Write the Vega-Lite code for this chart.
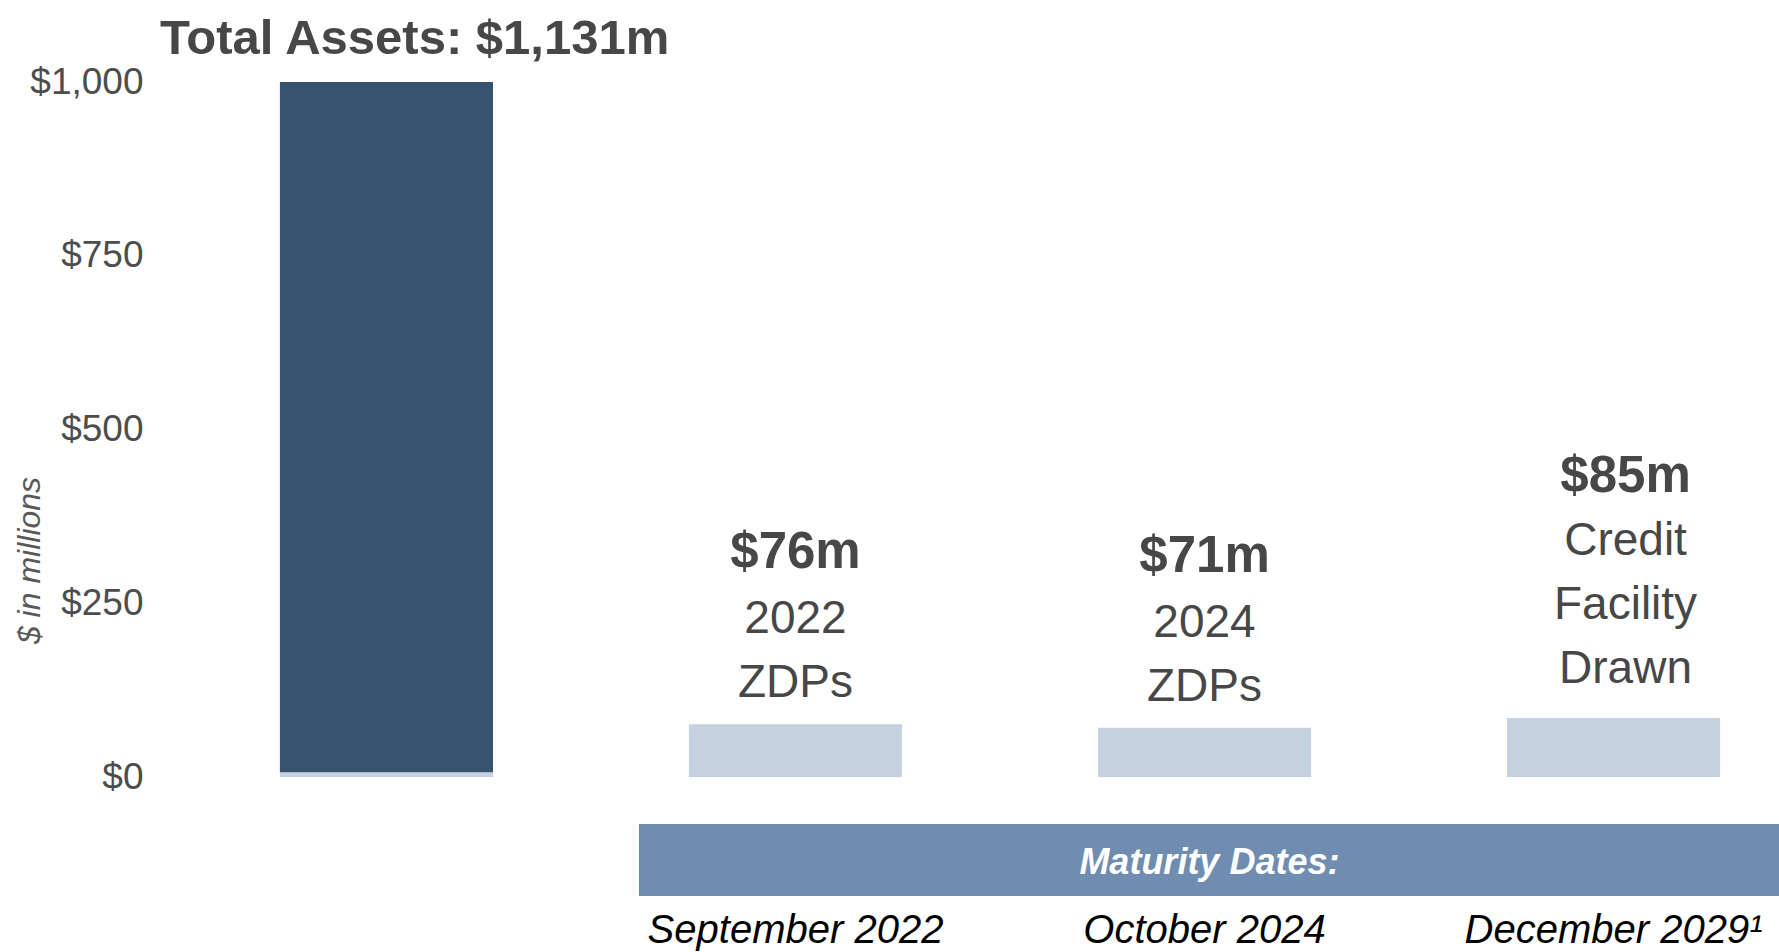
{
  "$schema": "https://vega.github.io/schema/vega-lite/v6.json",
  "background": "white",
  "padding": {"left": 13, "top": 15, "right": 0, "bottom": 0},
  "bounds": "flush",
  "spacing": 47,
  "config": {"view": {"stroke": null}, "font": "Liberation Sans, Arial, sans-serif"},
  "resolve": {"scale": {"x": "independent", "y": "independent"}},
  "vconcat": [
    {
      "width": 1558,
      "height": 695,
      "title": {"text": "Total Assets: $1,131m", "anchor": "start", "frame": "group", "dx": -61, "offset": -40, "baseline": "alphabetic", "font": "Liberation Sans, Arial, sans-serif", "fontSize": 49, "fontWeight": "bold", "color": "#474747"},
      "data": {"values": [
        {"cat": "Total Assets", "series": "Other", "value": 7},
        {"cat": "Total Assets", "series": "Total Assets", "value": 1124},
        {"cat": "2022 ZDPs", "series": "Liabilities", "value": 76, "amount": "$76m", "desc": "2022\nZDPs"},
        {"cat": "2024 ZDPs", "series": "Liabilities", "value": 71, "amount": "$71m", "desc": "2024\nZDPs"},
        {"cat": "Credit Facility", "series": "Liabilities", "value": 85, "amount": "$85m", "desc": "Credit\nFacility\nDrawn"}
      ]},
      "encoding": {
        "x": {"field": "cat", "type": "nominal", "axis": null,
              "scale": {"domain": ["Total Assets", "2022 ZDPs", "2024 ZDPs", "Credit Facility"], "paddingInner": 0.479, "paddingOuter": 0.144}}
      },
      "layer": [
        {
          "mark": {"type": "bar", "clip": true},
          "encoding": {
            "y": {"field": "value", "type": "quantitative", "stack": "zero",
                  "scale": {"domain": [0, 1000], "nice": false, "zero": true},
                  "axis": {"values": [0, 250, 500, 750, 1000], "format": "$,.0f", "title": "$ in millions",
                           "domain": false, "ticks": false, "tickSize": 0, "grid": false,
                           "labelFont": "Liberation Sans, Arial, sans-serif", "labelFontSize": 37, "labelColor": "#4d4d4d", "labelPadding": 78,
                           "titleFont": "Liberation Sans, Arial, sans-serif", "titleFontSize": 32, "titleFontStyle": "italic", "titleFontWeight": "normal",
                           "titleColor": "#595959", "titleX": -182, "titleY": 478, "titleBaseline": "alphabetic", "titleAngle": 270, "titleAlign": "center"}},
            "color": {"field": "series", "type": "nominal", "legend": null,
                      "scale": {"domain": ["Total Assets", "Other", "Liabilities"], "range": ["#37526f", "#c5d1df", "#c5d1df"]}},
            "order": {"field": "value", "type": "quantitative", "sort": "ascending"}
          }
        },
        {
          "transform": [{"filter": "datum.cat == '2022 ZDPs' || datum.cat == '2024 ZDPs'"}],
          "mark": {"type": "text", "fontSize": 51, "fontWeight": "bold", "color": "#474747", "baseline": "alphabetic", "dy": -156},
          "encoding": {"y": {"field": "value", "type": "quantitative", "stack": null}, "text": {"field": "amount"}}
        },
        {
          "transform": [{"filter": "datum.cat == '2022 ZDPs' || datum.cat == '2024 ZDPs'"}],
          "mark": {"type": "text", "fontSize": 46, "color": "#474747", "baseline": "alphabetic", "lineBreak": "\n", "lineHeight": 64, "dy": -91},
          "encoding": {"y": {"field": "value", "type": "quantitative", "stack": null}, "text": {"field": "desc"}}
        },
        {
          "transform": [{"filter": "datum.cat == 'Credit Facility'"}],
          "mark": {"type": "text", "fontSize": 51, "fontWeight": "bold", "color": "#474747", "baseline": "alphabetic", "dy": -226, "dx": 12},
          "encoding": {"y": {"field": "value", "type": "quantitative", "stack": null}, "text": {"field": "amount"}}
        },
        {
          "transform": [{"filter": "datum.cat == 'Credit Facility'"}],
          "mark": {"type": "text", "fontSize": 46, "color": "#474747", "baseline": "alphabetic", "lineBreak": "\n", "lineHeight": 64, "dy": -163, "dx": 12},
          "encoding": {"y": {"field": "value", "type": "quantitative", "stack": null}, "text": {"field": "desc"}}
        }
      ]
    },
    {
      "width": 1558,
      "height": 72,
      "layer": [
        {
          "data": {"values": [{"from": "2022 ZDPs", "to": "Credit Facility", "mid": "2024 ZDPs", "label": "Maturity Dates:"}]},
          "mark": {"type": "rect", "color": "#6f8db0"},
          "encoding": {
            "x": {"field": "from", "type": "nominal", "bandPosition": -0.2346, "axis": null,
                  "scale": {"domain": ["Total Assets", "2022 ZDPs", "2024 ZDPs", "Credit Facility"], "paddingInner": 0.479, "paddingOuter": 0.144}},
            "x2": {"field": "to", "bandPosition": 1.277}
          }
        },
        {
          "data": {"values": [{"from": "2022 ZDPs", "to": "Credit Facility", "mid": "2024 ZDPs", "label": "Maturity Dates:"}]},
          "mark": {"type": "text", "fontSize": 36, "fontWeight": "bold", "fontStyle": "italic", "color": "#ffffff", "dy": 3},
          "encoding": {
            "x": {"field": "mid", "type": "nominal", "bandPosition": 0.523},
            "text": {"field": "label"}
          }
        },
        {
          "data": {"values": [
            {"cat": "2022 ZDPs", "date": "September 2022"},
            {"cat": "2024 ZDPs", "date": "October 2024"},
            {"cat": "Credit Facility", "date": "December 2029¹"}
          ]},
          "mark": {"type": "text", "fontSize": 40, "fontStyle": "italic", "color": "#000000", "baseline": "alphabetic", "dy": 83},
          "encoding": {
            "x": {"field": "cat", "type": "nominal"},
            "text": {"field": "date"}
          }
        }
      ]
    }
  ]
}
